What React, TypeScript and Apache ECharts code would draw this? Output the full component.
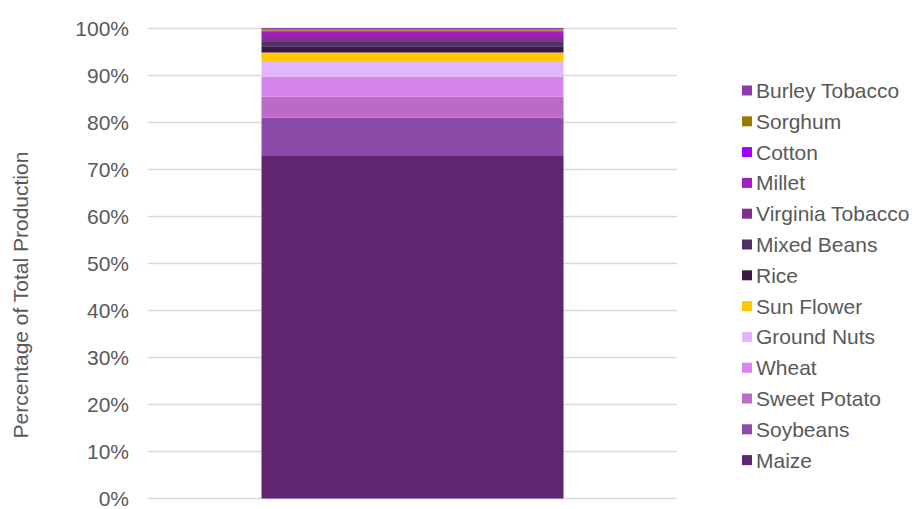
import React, { useEffect, useRef } from "react";
import * as echarts from "echarts";

const categories = ["Total"];
const seriesNames = [
  "Maize",
  "Soybeans",
  "Sweet Potato",
  "Wheat",
  "Ground Nuts",
  "Sun Flower",
  "Rice",
  "Mixed Beans",
  "Virginia Tobacco",
  "Millet",
  "Cotton",
  "Sorghum",
  "Burley Tobacco",
];
const seriesValues = [72.8, 8.2, 4.4, 4.3, 3.3, 1.8, 1.3, 0.9, 1.1, 1.2, 0.1, 0.3, 0.3];
const seriesColors = [
  "#5F2570",
  "#8A4CA8",
  "#BC6AC6",
  "#D785EC",
  "#E1B6FC",
  "#FFC800",
  "#391A47",
  "#4F2F66",
  "#7E3289",
  "#A11EC1",
  "#A000FF",
  "#9A7A00",
  "#8E3AAA",
];
const tickValues = [0, 10, 20, 30, 40, 50, 60, 70, 80, 90, 100];

export default function App() {
  const ref = useRef<HTMLDivElement>(null);
  useEffect(() => {
    if (!ref.current) return;
    const chart = echarts.init(ref.current, undefined, { renderer: "svg" });
    const font = "Liberation Sans, Arial, sans-serif";
    chart.setOption({
      animation: false,
      grid: { left: 148, right: 238, top: 28, bottom: 7, containLabel: false },
      xAxis: {
        type: "category",
        data: categories,
        axisLabel: { show: false },
        axisTick: { show: false },
        axisLine: { show: false },
      },
      yAxis: {
        type: "value",
        min: tickValues[0],
        max: tickValues[tickValues.length - 1],
        interval: 10,
        axisLabel: {
          formatter: "{value}%",
          color: "#595959",
          fontSize: 21,
          fontFamily: font,
          margin: 19,
        },
        axisLine: { show: false },
        axisTick: { show: false },
        splitLine: { lineStyle: { color: "#D9D9D9", width: 1.3 } },
      },
      legend: {
        orient: "vertical",
        left: 737,
        top: 75,
        itemWidth: 10,
        itemHeight: 10,
        itemGap: 9.8,
        icon: "rect",
        data: [...seriesNames].reverse(),
        textStyle: { color: "#595959", fontSize: 21, fontFamily: font, lineHeight: 21, padding: [0, 0, 0, -1] },
      },
      graphic: [
        {
          type: "text",
          x: 20,
          y: 295,
          rotation: Math.PI / 2,
          style: {
            text: "Percentage of Total Production",
            fill: "#595959",
            font: "21px Liberation Sans, Arial, sans-serif",
            textAlign: "center",
            textVerticalAlign: "middle",
          },
        },
      ],
      series: seriesNames.map((name, i) => ({
        name,
        type: "bar",
        stack: "total",
        barWidth: 302,
        data: [seriesValues[i]],
        itemStyle: { color: seriesColors[i] },
      })),
    });
    return () => chart.dispose();
  }, []);
  return <div ref={ref} style={{ width: 915, height: 509, position: "absolute", left: 0, top: 0 }} />;
}
